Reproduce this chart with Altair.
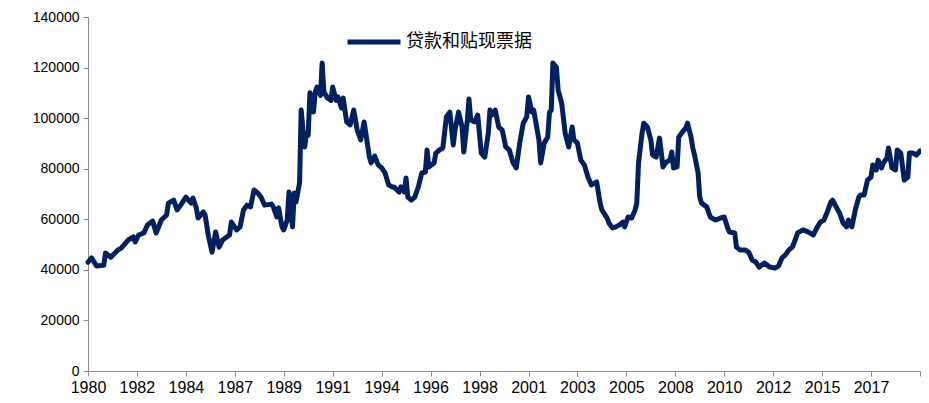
import altair as alt
import pandas as pd

series_name = "贷款和贴现票据"

dates = [
    "1980-01", "1980-03", "1980-06", "1980-10", "1980-11", "1981-02", "1981-06", "1981-08", "1981-12",
    "1982-03", "1982-04", "1982-06", "1982-09", "1982-11", "1983-02", "1983-04", "1983-07", "1983-10",
    "1983-11", "1984-02", "1984-04", "1984-06", "1984-09", "1984-12", "1985-01", "1985-03", "1985-04",
    "1985-07", "1985-08", "1985-10", "1985-12", "1986-02", "1986-04", "1986-06",
    "1986-10", "1986-11", "1987-02", "1987-04", "1987-06", "1987-08", "1987-10", "1987-12", "1988-02",
    "1988-04", "1988-06", "1988-10", "1988-11", "1989-01", "1989-02", "1989-04", "1989-05", "1989-07",
    "1989-08", "1989-10", "1989-11", "1989-12", "1990-02", "1990-03", "1990-04", "1990-05", "1990-06",
    "1990-07", "1990-08", "1990-10", "1990-11", "1990-12", "1991-02", "1991-03", "1991-04", "1991-06",
    "1991-08", "1991-09", "1991-11", "1991-12", "1992-02", "1992-03", "1992-05", "1992-07", "1992-09",
    "1992-11", "1993-01",
    "1993-03", "1993-06", "1993-07", "1993-09", "1993-11", "1994-01", "1994-03", "1994-05", "1994-07",
    "1994-08", "1994-11", "1994-12", "1995-02", "1995-03", "1995-04", "1995-06", "1995-08", "1995-10",
    "1995-12", "1996-02", "1996-03", "1996-04", "1996-07", "1996-08", "1996-10", "1996-12", "1997-02",
    "1997-04", "1997-06", "1997-07", "1997-09", "1997-11", "1997-12", "1998-02", "1998-03", "1998-04",
    "1998-06", "1998-08", "1998-10", "1998-12", "1999-02", "1999-03", "1999-04", "1999-06", "1999-08",
    "1999-10", "1999-12", "2000-02", "2000-04", "2000-06", "2000-08", "2000-10", "2000-12", "2001-01",
    "2001-03", "2001-04", "2001-06", "2001-07", "2001-08", "2001-10", "2001-12", "2002-01", "2002-02",
    "2002-03", "2002-05", "2002-06", "2002-08", "2002-10", "2002-11", "2002-12", "2003-02", "2003-03",
    "2003-05", "2003-07", "2003-09", "2003-11", "2004-01", "2004-03", "2004-04", "2004-06", "2004-07",
    "2004-10", "2004-11", "2005-01", "2005-03", "2005-05", "2005-07", "2005-08", "2005-10", "2005-12",
    "2006-02", "2006-03",
    "2006-04", "2006-06", "2006-07", "2006-09", "2006-11", "2006-12", "2007-02", "2007-04", "2007-06",
    "2007-08", "2007-10", "2007-11", "2007-12", "2008-02", "2008-03", "2008-05", "2008-07", "2008-08",
    "2008-10", "2008-11", "2008-12", "2009-02", "2009-03", "2009-04", "2009-07", "2009-09", "2009-12",
    "2010-03", "2010-05", "2010-07", "2010-08", "2010-11", "2010-12", "2011-02", "2011-05", "2011-07",
    "2011-09", "2011-11", "2012-01", "2012-04", "2012-07", "2012-10",
    "2012-12", "2013-02", "2013-04", "2013-06", "2013-08", "2013-10", "2013-11", "2014-02", "2014-05",
    "2014-08", "2014-10", "2014-12", "2015-02", "2015-04", "2015-06", "2015-07", "2015-10", "2015-11",
    "2016-01", "2016-03", "2016-04", "2016-06", "2016-08", "2016-10", "2016-11", "2017-01", "2017-03",
    "2017-05", "2017-06", "2017-08", "2017-09", "2017-11", "2017-12", "2018-02", "2018-03", "2018-05",
    "2018-07", "2018-08", "2018-10", "2018-12", "2019-02", "2019-03", "2019-05", "2019-07", "2019-09",
]

values = [
    43000, 44700, 41500, 41800, 46700, 45000, 47800, 48600, 51800,
    53000, 51000, 53800, 54600, 57700, 59300, 54600, 59700, 61700,
    66400, 67600, 63700, 65600, 68800, 66400, 68400, 64500, 60500,
    62900, 61700, 53000, 47000, 55000, 49000, 51800,
    53800, 58900, 55800, 57000, 63700, 65600, 64900, 71600, 70400,
    68800, 65600, 66000, 64900, 60900, 64500, 57000, 55800, 59700,
    70800, 57000, 70400, 66800, 74400, 103200, 95300, 88600, 94000,
    93300, 110000, 102400, 110300, 112300, 109000, 121800, 110300, 108000,
    107000, 112300, 107000, 108400, 104000, 108000, 98500, 97300, 103200,
    95300, 91400,
    98500, 84600, 82300, 85000, 81500, 80300, 78300, 73600, 72800,
    72800, 70800, 72800, 70800, 76300, 68800, 67600, 68800, 72800,
    78300, 78700, 87400, 80700, 82300, 86200, 87400, 88200, 100500,
    102400, 89400, 95300, 102400, 96500, 86600, 99300, 107600, 99300,
    98500, 101200, 86200, 84600, 94100, 103200, 101200, 103200, 96500,
    95300, 88600, 87400, 82700, 80300, 90200, 98000, 100500, 108400,
    102400, 103200, 95300, 91400, 82300, 90200, 92500, 102400, 103200,
    121800, 120200, 111100, 106000, 94100, 91400, 88600, 96500, 91400,
    90200, 83400, 81500, 76700, 73600, 74400, 74800, 66400, 63700,
    60500, 58500, 56600, 57000, 57700, 58900, 57000, 60900, 60500,
    63700, 66400,
    82300, 94100, 98000, 96500, 91400, 85400, 84600, 92100, 80700,
    82700, 83400, 86600, 80300, 80700, 92500, 94500, 96100, 98000,
    92500, 88200, 85400, 78300, 68800, 66400, 64900, 60900, 59700,
    60500, 60900, 56600, 55000, 54600, 49000, 47900, 47900, 47000,
    43900, 43100, 41100, 42700, 41100, 40700,
    41500, 44700, 45900, 47900, 49000, 52600, 54600, 55800, 55000,
    53800, 56600, 58900, 59700, 62900, 66800, 67600, 63700, 62500,
    58500, 57000, 59700, 57000, 63700, 68800, 69600, 69600, 75500,
    76700, 81500, 79500, 83400, 80300, 82300, 84200, 88200, 80300,
    79500, 87400, 86200, 75500, 76700, 86200, 86200, 85400, 87000,
]

# x-axis tick positions (every 28 months), labelled with the year
tick_months = [
    (1980, 1), (1982, 5), (1984, 9), (1987, 1), (1989, 5), (1991, 9), (1994, 1), (1996, 5), (1998, 9),
    (2001, 1), (2003, 5), (2005, 9), (2008, 1), (2010, 5), (2012, 9), (2015, 1), (2017, 5), (2019, 9),
]
y_ticks = [0, 20000, 40000, 60000, 80000, 100000, 120000, 140000]

df = pd.DataFrame({
    "date": [d + "-01" for d in dates],
    "value": values,
    "series": [series_name] * len(values),
})

navy = "#002060"
axis_gray = "#8c8c8c"
font = "Liberation Sans"

x_vals = [alt.DateTime(year=y, month=m, date=1, utc=True) for (y, m) in tick_months]

chart = alt.Chart(df).mark_line(strokeWidth=5, strokeJoin="round", strokeCap="round").encode(
    x=alt.X(
        "date:T",
        scale=alt.Scale(
            type="utc",
            domain=[alt.DateTime(year=1980, month=1, date=1, utc=True),
                    alt.DateTime(year=2019, month=9, date=1, utc=True)],
        ),
        axis=alt.Axis(
            values=x_vals,
            title=None,
            grid=False,
            labelAngle=0,
            labelExpr="utcyear(datum.value) >= 2019 ? '' : utcFormat(datum.value, '%Y')",
            domainColor=axis_gray,
            tickColor=axis_gray,
            tickSize=5,
            labelPadding=3,
            labelFont=font,
            labelFontSize=16,
            labelColor="#000000",
            labelOverlap=False,
            labelFlush=False,
        ),
    ),
    y=alt.Y(
        "value:Q",
        scale=alt.Scale(domain=[0, 140000], nice=False),
        axis=alt.Axis(
            values=y_ticks,
            format="d",
            title=None,
            grid=False,
            domainColor=axis_gray,
            tickColor=axis_gray,
            tickSize=5,
            labelPadding=4,
            labelFont=font,
            labelFontSize=14,
            labelColor="#000000",
        ),
    ),
    color=alt.Color(
        "series:N",
        scale=alt.Scale(range=[navy]),
        legend=alt.Legend(
            title=None,
            orient="none",
            legendX=257,
            legendY=-4,
            padding=0,
            symbolType="stroke",
            symbolSize=2809,
            symbolStrokeWidth=5,
            symbolStrokeColor=navy,
            labelFont="Noto Sans CJK SC",
            labelFontSize=18,
            labelColor="#000000",
            labelOffset=3,
        ),
    ),
).properties(
    width=832,
    height=354,
    padding={"left": 80, "top": 9, "right": 1, "bottom": 24},
    autosize=alt.AutoSizeParams(type="none"),
).configure_view(stroke=None)

chart.save("out.html", embed_options={"renderer": "svg", "actions": False})
